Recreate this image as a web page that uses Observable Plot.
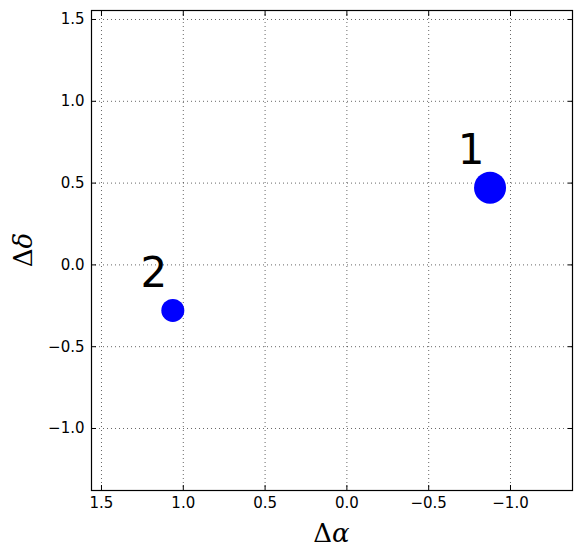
<!DOCTYPE html>
<html><head><meta charset="utf-8">
<script src="https://cdn.jsdelivr.net/npm/d3@7"></script>
<script src="https://cdn.jsdelivr.net/npm/@observablehq/plot@0.6"></script>
<style>body{margin:0;background:#fff} svg{display:block}</style>
</head><body><div id="chart"></div>
<script>
const labels = ["1", "2"];
const dAlpha = [-0.875, 1.064];
const dDelta = [0.472, -0.278];
const xTicks = [1.5, 1.0, 0.5, 0.0, -0.5, -1.0];
const yTicks = [1.5, 1.0, 0.5, 0.0, -0.5, -1.0];
const xDomain = [1.561, -1.379];
const yDomain = [-1.379, 1.555];

const data = labels.map((label, i) => ({label, x: dAlpha[i], y: dDelta[i]}));
const fmt = d3.format(".1f");
const blank = () => "";
const gridStyle = {stroke: "#000", strokeOpacity: 0.6, strokeDasharray: "1,3"};

const chart = Plot.plot({
  width: 580, height: 558,
  marginLeft: 91, marginRight: 8, marginTop: 10, marginBottom: 68,
  style: {fontFamily: "DejaVu Sans, sans-serif", fontSize: "15px", background: "#fff", color: "#000"},
  x: {domain: xDomain, label: null},
  y: {domain: yDomain, label: null},
  r: {type: "identity"},
  marks: [
    Plot.gridX(xTicks, gridStyle),
    Plot.gridY(yTicks, gridStyle),
    Plot.axisX(xTicks, {anchor: "bottom", tickSize: 0, tickPadding: 7, tickFormat: fmt, fontSize: 15, label: null}),
    Plot.axisY(yTicks, {anchor: "left", tickSize: 0, tickPadding: 7, tickFormat: fmt, fontSize: 15, label: null}),
    Plot.axisX(xTicks, {anchor: "bottom", tickSize: -5, tickFormat: blank, label: null}),
    Plot.axisX(xTicks, {anchor: "top", tickSize: -5, tickFormat: blank, label: null}),
    Plot.axisY(yTicks, {anchor: "left", tickSize: -5, tickFormat: blank, label: null}),
    Plot.axisY(yTicks, {anchor: "right", tickSize: -5, tickFormat: blank, label: null}),
    Plot.frame({stroke: "#000", strokeWidth: 1.2}),
    Plot.dot(data, {x: "x", y: "y", r: d => d.label === "1" ? 16 : 11.5, fill: "#0000ff", stroke: "none"}),
    Plot.text(data, {x: "x", y: "y", text: "label", dx: -19, dy: -37, fontSize: 42, fill: "#000", textAnchor: "middle", lineAnchor: "middle"})
  ]
});

const svg = d3.select(chart);
svg.selectAll("g[aria-label$='tick label']")
  .attr("font-size", 15)
  .attr("font-family", "DejaVu Sans")
  .style("font-size", "15px")
  .style("font-family", "DejaVu Sans")
  .style("font-variant", "normal");

const xl = svg.append("text")
  .attr("x", 331.5).attr("y", 542)
  .attr("text-anchor", "middle")
  .attr("font-family", "DejaVu Serif, serif")
  .attr("font-size", 26)
  .attr("fill", "#000");
xl.append("tspan").text("Δ");
xl.append("tspan").attr("font-style", "italic").text("α");

const yl = svg.append("text")
  .attr("transform", "translate(32,250) rotate(-90)")
  .attr("text-anchor", "middle")
  .attr("font-family", "DejaVu Serif, serif")
  .attr("font-size", 26)
  .attr("fill", "#000");
yl.append("tspan").text("Δ");
yl.append("tspan").attr("font-style", "italic").text("δ");

document.getElementById("chart").appendChild(chart);
</script>
</body></html>
